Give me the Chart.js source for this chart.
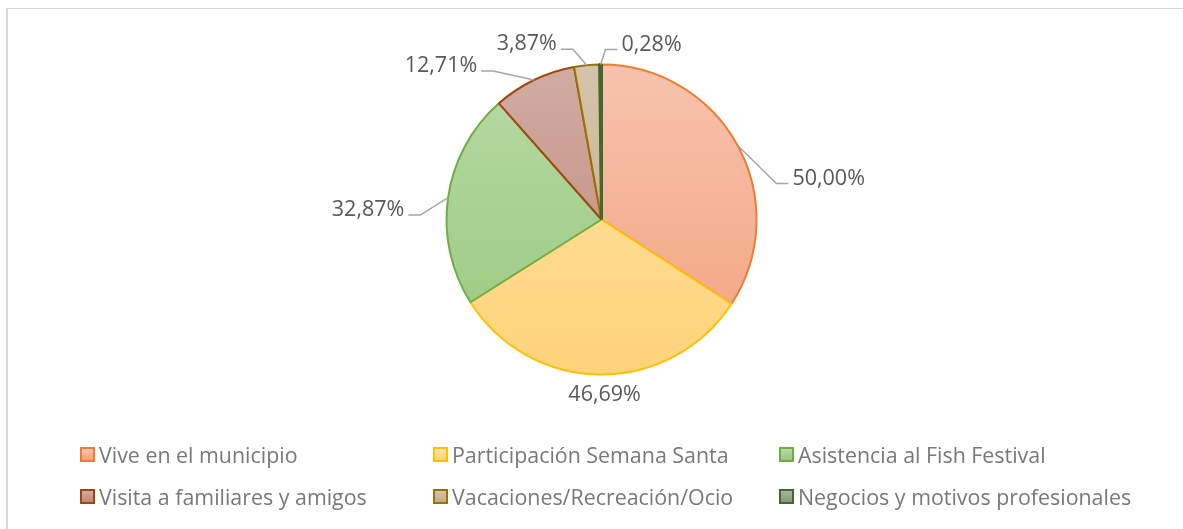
<!DOCTYPE html>
<html>
<head>
<meta charset="utf-8">
<script src="https://cdn.jsdelivr.net/npm/chart.js@4.4.1/dist/chart.umd.min.js"></script>
<style>
  html, body { margin: 0; padding: 0; background: #fff; }
  #wrap { position: relative; width: 1183px; height: 529px; overflow: hidden; }
  #frame { position: absolute; left: 6px; top: 8px; width: 1300px; height: 600px;
           border-top: 1px solid #d9d9d9; border-left: 2px solid #d9d9d9; box-sizing: border-box; }
  #c { position: absolute; left: 0; top: 0; }
  #legend { position: absolute; left: 0; top: 0; width: 1183px; height: 529px; pointer-events: none; }
  .li { position: absolute; display: flex; align-items: center; font-family: "Open Sans", sans-serif;
        font-size: 21.4px; color: #787878; white-space: nowrap; }
  .sw { width: 11px; height: 11px; border: 2px solid; margin-right: 4px; flex: none; }
</style>
</head>
<body>
<div id="wrap">
  <div id="frame"></div>
  <canvas id="c" width="1183" height="529"></canvas>
  <div id="legend"></div>
</div>
<script>
// ---- data ----
const categories = [
  "Vive en el municipio",
  "Participación Semana Santa",
  "Asistencia al Fish Festival",
  "Visita a familiares y amigos",
  "Vacaciones/Recreación/Ocio",
  "Negocios y motivos profesionales"
];
const values = [50.00, 46.69, 32.87, 12.71, 3.87, 0.28];
const valueLabels = ["50,00%", "46,69%", "32,87%", "12,71%", "3,87%", "0,28%"];

// ---- styles ----
const fillTop    = ["#F7C3AD", "#FFE2A6", "#B8DAA4", "#D1ACA3", "#D5C4AB", "#A9B6A2"];
const fillBottom = ["#F3A27F", "#FFD37A", "#98C87E", "#C08676", "#C3AC88", "#85987B"];
const borders    = ["#ED7D31", "#FFC000", "#70AD47", "#9E480E", "#997300", "#43682B"];
const borderWidths = [2, 2, 2, 2, 2, 3];
// label centre offsets (px) relative to each slice's outer mid point
const labelOffsets = [[91, 33], [4, 20], [-80, 12.5], [-93, -14], [-60, -21], [51, -20]];
const showLeader = [true, false, true, true, true, true];
const legendCols = [80, 433, 779];
const legendRows = [454, 496];

const ctx = document.getElementById('c').getContext('2d');

function grad(i, chart) {
  const a = chart.chartArea;
  if (!a) return fillBottom[i];
  const g = chart.ctx.createLinearGradient(0, a.top, 0, a.bottom);
  g.addColorStop(0, fillTop[i]);
  g.addColorStop(1, fillBottom[i]);
  return g;
}

const labelPlugin = {
  id: 'pieLabels',
  afterDatasetsDraw(chart) {
    const c = chart.ctx;
    const meta = chart.getDatasetMeta(0);
    c.save();
    c.font = '21.5px "Open Sans", sans-serif';
    c.fillStyle = '#595959';
    c.textBaseline = 'middle';
    c.textAlign = 'center';
    meta.data.forEach((arc, i) => {
      const mid = (arc.startAngle + arc.endAngle) / 2;
      const ex = arc.x + Math.cos(mid) * arc.outerRadius;
      const ey = arc.y + Math.sin(mid) * arc.outerRadius;
      const lx = ex + labelOffsets[i][0];
      const ly = ey + labelOffsets[i][1];
      const w = c.measureText(valueLabels[i]).width;
      if (showLeader[i]) {
        const right = lx < ex;
        const sx = right ? lx + w / 2 + 4 : lx - w / 2 - 4;
        const kx = right ? sx + 12 : sx - 12;
        const yy = ly + 5;
        c.strokeStyle = '#A6A6A6';
        c.lineWidth = 1.5;
        c.beginPath();
        c.moveTo(sx, yy);
        c.lineTo(kx, yy);
        c.lineTo(ex, ey);
        c.stroke();
      }
      c.fillText(valueLabels[i], lx, ly);
    });
    c.restore();
  }
};

new Chart(ctx, {
  type: 'pie',
  data: {
    labels: categories,
    datasets: [{
      data: values,
      backgroundColor: (context) => grad(context.dataIndex, context.chart),
      borderColor: borders,
      borderWidth: borderWidths
    }]
  },
  options: {
    responsive: false,
    animation: false,
    events: [],
    layout: { padding: { top: 63, bottom: 153, left: 445, right: 425 } },
    plugins: { legend: { display: false }, tooltip: { enabled: false } }
  },
  plugins: [labelPlugin]
});

// HTML legend
const lg = document.getElementById('legend');
categories.forEach((name, i) => {
  const d = document.createElement('div');
  d.className = 'li';
  d.style.left = legendCols[i % 3] + 'px';
  d.style.top = (legendRows[Math.floor(i / 3)] - 14) + 'px';
  d.style.height = '28px';
  const s = document.createElement('span');
  s.className = 'sw';
  s.style.borderColor = borders[i];
  s.style.background = 'linear-gradient(' + fillTop[i] + ',' + fillBottom[i] + ')';
  const t = document.createElement('span');
  t.textContent = name;
  d.appendChild(s); d.appendChild(t);
  lg.appendChild(d);
});
</script>
</body>
</html>
